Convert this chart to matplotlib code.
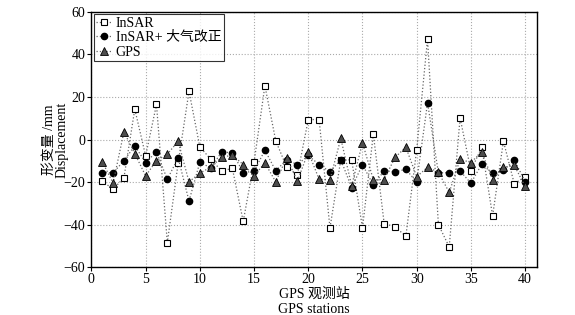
import matplotlib
matplotlib.use("Agg")
import matplotlib.pyplot as plt
import numpy as np

plt.rcParams["font.family"] = ["Liberation Serif", "Noto Sans CJK SC"]

stations = np.arange(1, 41)
insar = [-19.5, -23.4, -17.9, 14.3, -7.7, 16.5, -48.5, -11.0, 22.7, -3.5,
         -9.2, -14.7, -13.6, -38.5, -10.7, 25.3, -0.6, -12.9, -16.5, 9.4,
         9.4, -41.6, -9.5, -9.6, -41.6, 2.5, -39.5, -41.0, -45.5, -4.8,
         47.2, -40.0, -50.5, 10.2, -14.6, -3.6, -35.9, -0.8, -20.8, -17.5]
insar_corr = [-15.5, -15.7, -9.9, -3.0, -10.8, -5.8, -18.7, -8.6, -28.9, -10.7,
              -13.3, -6.0, -6.1, -15.5, -14.9, -5.0, -14.7, -9.5, -11.8, -7.5,
              -11.8, -15.1, -9.5, -22.6, -11.8, -21.4, -14.7, -15.2, -14.0, -20.0,
              17.3, -15.6, -15.6, -14.8, -20.5, -11.6, -15.9, -14.5, -9.6, -19.8]
gps = [-10.5, -20.4, 3.6, -6.6, -17.1, -9.9, -6.9, -0.8, -19.9, -15.8,
       -13.0, -8.4, -7.3, -11.8, -17.0, -11.0, -19.9, -8.6, -19.5, -5.8,
       -18.7, -18.9, 0.5, -21.7, -1.5, -18.9, -18.8, -8.4, -3.6, -17.5,
       -13.0, -15.3, -24.9, -9.3, -10.8, -5.8, -18.8, -13.1, -12.2, -22.0]

fig = plt.figure(figsize=(5.75, 3.15), dpi=100)
ax = fig.add_axes([0.159, 0.152, 0.775, 0.810])

line_kw = dict(linestyle=":", linewidth=0.9, color="#666666")
ax.plot(stations, insar, marker="s", markersize=4.2, markerfacecolor="white",
        markeredgecolor="black", markeredgewidth=0.8, label="InSAR", **line_kw)
ax.plot(stations, insar_corr, marker="o", markersize=4.5, markerfacecolor="black",
        markeredgecolor="black", label="InSAR+ 大气改正", **line_kw)
ax.plot(stations, gps, marker="^", markersize=5.5, markerfacecolor="#4d4d4d",
        markeredgecolor="black", markeredgewidth=0.6, label="GPS", **line_kw)

ax.set_xlim(0, 41.1)
ax.set_ylim(-60, 60)
ax.set_xticks(np.arange(0, 41, 5))
ax.set_yticks(np.arange(-60, 61, 20))
ax.grid(True, linestyle=":", color="#aaaaaa", linewidth=0.8)
ax.tick_params(labelsize=10, length=3, direction="out", width=0.8, pad=1.5)
for s in ax.spines.values():
    s.set_linewidth(1.0)

ax.set_xlabel("GPS 观测站\nGPS stations", fontsize=10, linespacing=1.15, labelpad=1)
ax.set_ylabel("形变量 /mm\nDisplacement", fontsize=10, linespacing=1.05, labelpad=-4)

leg = ax.legend(loc="upper left", fontsize=10, frameon=True, fancybox=False,
                edgecolor="black", borderpad=0.2, labelspacing=0.1,
                handlelength=1.1, handletextpad=0.3, borderaxespad=0.15)
leg.get_frame().set_linewidth(0.8)

fig.savefig("out.png", dpi=100)
